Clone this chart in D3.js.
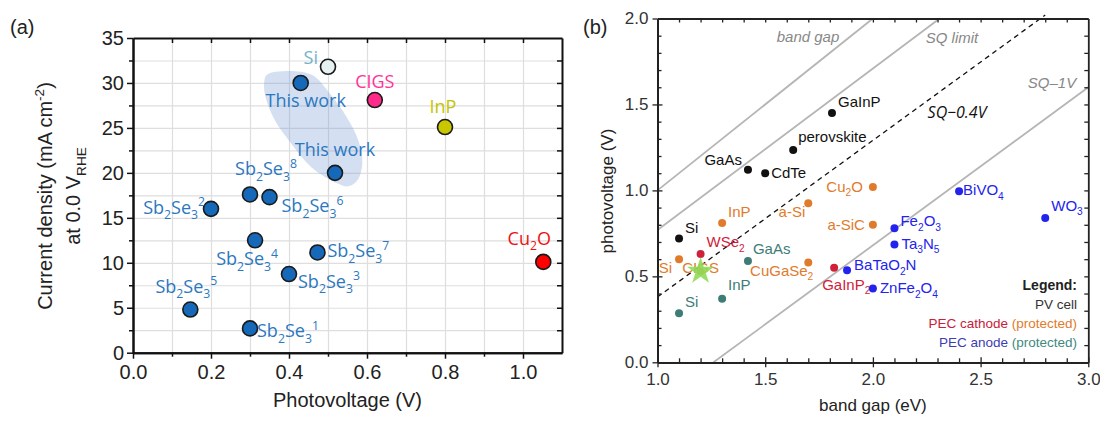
<!DOCTYPE html>
<html>
<head>
<meta charset="utf-8">
<script src="https://cdn.jsdelivr.net/npm/d3@7"></script>
<style>
  body { margin: 0; background: #fff; }
  svg text { font-family: "Liberation Sans", Arial, sans-serif; }
  .narrow { font-family: "Liberation Sans Narrow", "Liberation Sans", Arial, sans-serif; }
  .lbl { font-family: "Open Sans", "Noto Sans", sans-serif; }
</style>
</head>
<body>
<svg id="chart" width="1100" height="425"></svg>
<script>
// ---------- panel (a) data ----------
var sbNames   = ["Sb_2Se_3^1", "Sb_2Se_3^2", "Sb_2Se_3^3", "Sb_2Se_3^4", "Sb_2Se_3^5", "Sb_2Se_3^6", "Sb_2Se_3^7", "Sb_2Se_3^8"];
var sbVoltage = [0.30, 0.20, 0.40, 0.313, 0.147, 0.35, 0.473, 0.30];
var sbCurrent = [2.7, 16.0, 8.75, 12.5, 4.8, 17.3, 11.15, 17.6];

var workNames   = ["This work", "This work"];
var workVoltage = [0.43, 0.518];
var workCurrent = [30.0, 20.0];

var refNames   = ["Si", "CIGS", "InP", "Cu_2O"];
var refVoltage = [0.50, 0.62, 0.80, 1.052];
var refCurrent = [31.8, 28.1, 25.1, 10.1];

// outline of the shaded "this work" region (V, mA cm-2)
var workRegion = [[0.343, 30.9], [0.385, 31.3], [0.458, 30.9], [0.505, 28.8], [0.548, 26.2], [0.578, 23.6],
                  [0.588, 21.1], [0.576, 19.2], [0.552, 18.5], [0.520, 18.9], [0.458, 20.6], [0.405, 23.3],
                  [0.363, 25.9], [0.340, 28.4], [0.336, 29.9]];

var xTicksA = [0, 0.2, 0.4, 0.6, 0.8, 1.0];
var yTicksA = [0, 5, 10, 15, 20, 25, 30, 35];

// ---------- panel (b) data ----------
var pvNames = ["Si", "GaAs", "CdTe", "perovskite", "GaInP"];
var pvGap   = [1.10, 1.42, 1.50, 1.63, 1.81];
var pvVolt  = [0.72, 1.12, 1.10, 1.235, 1.45];

var cathProtNames = ["Si", "CIGS", "InP", "a-Si", "CuGaSe_2", "Cu_2O", "a-SiC"];
var cathProtGap   = [1.10, 1.20, 1.30, 1.70, 1.70, 2.00, 2.00];
var cathProtVolt  = [0.60, 0.53, 0.81, 0.925, 0.58, 1.02, 0.80];

var cathNames = ["WSe_2", "GaInP_2"];
var cathGap   = [1.20, 1.82];
var cathVolt  = [0.63, 0.55];

var anodeNames = ["BiVO_4", "WO_3", "Fe_2O_3", "Ta_3N_5", "BaTaO_2N", "ZnFe_2O_4"];
var anodeGap   = [2.40, 2.80, 2.10, 2.10, 1.88, 2.00];
var anodeVolt  = [0.995, 0.84, 0.78, 0.685, 0.535, 0.43];

var anodeProtNames = ["GaAs", "InP", "Si"];
var anodeProtGap   = [1.42, 1.30, 1.10];
var anodeProtVolt  = [0.59, 0.37, 0.285];

var starGap = [1.20], starVolt = [0.53];

var bandGapLine = [[1.0, 1.0], [2.0, 2.0]];
var sqLimitLine = [[1.0, 0.77], [2.31, 2.0]];
var sq04Line    = [[1.0, 0.38], [2.80, 2.02]];
var sq1Line     = [[1.26, 0.0], [3.0, 1.60]];

var xTicksB = [1.0, 1.5, 2.0, 2.5, 3.0];
var yTicksB = [0.0, 0.5, 1.0, 1.5, 2.0];

// ---------- helpers ----------
var svg = d3.select("#chart");

// "_x" subscript, "^x" superscript, braces for longer runs
function rich(sel, str, fs) {
  var re = /([_^])(\{[^}]*\}|.)|([^_^]+)/g, m, shift = 0;
  while ((m = re.exec(str))) {
    var t = sel.append("tspan");
    if (m[3]) {
      t.text(m[3]).attr("dy", -shift);
      shift = 0;
    } else {
      var s = m[2].replace(/[{}]/g, "");
      var ns = m[1] === "_" ? fs * 0.3 : -fs * 0.42;
      t.text(s).attr("font-size", fs * 0.68).attr("dy", ns - shift);
      shift = ns;
    }
  }
}

function styleAxis(g, w) {
  g.select(".domain").attr("stroke", "#111").attr("stroke-width", w);
  g.selectAll(".tick line").attr("stroke", "#111").attr("stroke-width", 1.5);
}

// ================= panel (a) =================
var xA = d3.scaleLinear().domain([0, 1.1]).range([133, 562]);
var yA = d3.scaleLinear().domain([0, 35]).range([352.7, 38]);
var hA = yA(0) - yA(35), wA = xA(1.1) - xA(0);

var gridX = svg.append("g").attr("transform", "translate(0," + yA(0) + ")")
  .call(d3.axisBottom(xA).tickValues(d3.range(1, 11).map(function(i) { return i / 10; })).tickSize(-hA).tickFormat(""));
var gridY = svg.append("g").attr("transform", "translate(" + xA(0) + ",0)")
  .call(d3.axisLeft(yA).tickValues(d3.range(1, 14).map(function(i) { return i * 2.5; })).tickSize(-wA).tickFormat(""));
[gridX, gridY].forEach(function(g) {
  g.select(".domain").remove();
  g.selectAll(".tick line").attr("stroke", "#dedede").attr("stroke-width", 1.2);
});

svg.append("path")
  .attr("d", d3.line().x(function(d) { return xA(d[0]); }).y(function(d) { return yA(d[1]); })
    .curve(d3.curveCatmullRomClosed)(workRegion))
  .attr("fill", "rgb(120,160,215)").attr("fill-opacity", 0.32);

// axes
var axL = svg.append("g").attr("transform", "translate(" + xA(0) + ",0)")
  .call(d3.axisLeft(yA).tickValues(yTicksA).tickSize(6).tickSizeOuter(0).tickPadding(3));
var axLm = svg.append("g").attr("transform", "translate(" + xA(0) + ",0)")
  .call(d3.axisLeft(yA).tickValues([2.5, 7.5, 12.5, 17.5, 22.5, 27.5, 32.5]).tickSize(4).tickSizeOuter(0).tickFormat(""));
var axB = svg.append("g").attr("transform", "translate(0," + yA(0) + ")")
  .call(d3.axisBottom(xA).tickValues(xTicksA).tickSize(6).tickSizeOuter(0).tickPadding(6).tickFormat(d3.format(".1f")));
var axBm = svg.append("g").attr("transform", "translate(0," + yA(0) + ")")
  .call(d3.axisBottom(xA).tickValues([0.1, 0.3, 0.5, 0.7, 0.9]).tickSize(4).tickSizeOuter(0).tickFormat(""));
var axT = svg.append("g").attr("transform", "translate(0," + yA(35) + ")")
  .call(d3.axisTop(xA).tickValues(d3.range(1, 11).map(function(i) { return i / 10; })).tickSize(-5).tickSizeOuter(0).tickFormat(""));
var axR = svg.append("g").attr("transform", "translate(" + xA(1.1) + ",0)")
  .call(d3.axisRight(yA).tickValues(d3.range(1, 14).map(function(i) { return i * 2.5; })).tickSize(-5).tickSizeOuter(0).tickFormat(""));
[axL, axLm, axB, axBm, axT, axR].forEach(function(g) { styleAxis(g, 2); });
[axL, axB].forEach(function(g) {
  g.selectAll(".tick text").attr("font-size", 20).attr("fill", "#222")
    .attr("font-family", "Liberation Sans, Arial, sans-serif");
});

svg.append("text").attr("x", (xA(0) + xA(1.1)) / 2).attr("y", 407).attr("text-anchor", "middle")
  .attr("font-size", 20).attr("fill", "#222").text("Photovoltage (V)");
var yt1 = svg.append("text").attr("transform", "translate(52,196) rotate(-90)").attr("text-anchor", "middle")
  .attr("font-size", 20).attr("fill", "#222");
rich(yt1, "Current density (mA cm^{-2})", 20);
var yt2 = svg.append("text").attr("transform", "translate(80,196) rotate(-90)").attr("text-anchor", "middle")
  .attr("font-size", 20).attr("fill", "#222");
rich(yt2, "at 0.0 V_{RHE}", 20);

svg.append("text").attr("x", 10).attr("y", 34).attr("font-size", 20).attr("fill", "#222").text("(a)");

// points (a)
var blueFill = "#1668b8", blueText = "#2b78c0";
var sbOff = [[7, 9, "start"], [-6, 5, "end"], [9, 14, "start"], [-8, 25, "middle"], [-4, -17, "middle"],
             [12, 15, "start"], [10, 5, "start"], [16, -19, "middle"]];
var workOff = [[5, 24, "middle"], [0, -17, "middle"]];
var refOff = [[-10, -3, "end"], [0, -12, "middle"], [-2, -14, "middle"], [-14, -17, "middle"]];
var refFill = ["#e6f2f2", "#ff2a8a", "#c9c800", "#ff0000"];
var refText = ["#72b3c9", "#ff3399", "#c4c400", "#ee1111"];

function pointsA(names, vx, vy, fills, texts, offs) {
  names.forEach(function(n, i) {
    svg.append("circle").attr("cx", xA(vx[i])).attr("cy", yA(vy[i])).attr("r", 7.5)
      .attr("fill", fills[i]).attr("stroke", "#1a1a1a").attr("stroke-width", 1.6);
  });
  names.forEach(function(n, i) {
    var o = offs[i];
    var t = svg.append("text").attr("class", "lbl").attr("x", xA(vx[i]) + o[0]).attr("y", yA(vy[i]) + o[1])
      .attr("text-anchor", o[2]).attr("font-size", 18).attr("fill", texts[i]);
    rich(t, n, 18);
  });
}
pointsA(sbNames, sbVoltage, sbCurrent, sbNames.map(function() { return blueFill; }), sbNames.map(function() { return blueText; }), sbOff);
pointsA(workNames, workVoltage, workCurrent, [blueFill, blueFill], [blueText, blueText], workOff);
pointsA(refNames, refVoltage, refCurrent, refFill, refText, refOff);

// ================= panel (b) =================
var xB = d3.scaleLinear().domain([1, 3]).range([657.5, 1088.3]);
var yB = d3.scaleLinear().domain([0, 2]).range([362.3, 18.5]);
var tenths = function(a, b) { return d3.range(a, b + 1).map(function(i) { return i / 10; }); };
var minorX = tenths(11, 29).filter(function(v) { return Math.round(v * 10) % 5 !== 0; });
var minorY = tenths(1, 19).filter(function(v) { return Math.round(v * 10) % 5 !== 0; });

var lineB = d3.line().x(function(d) { return xB(d[0]); }).y(function(d) { return yB(d[1]); });
[bandGapLine, sqLimitLine, sq1Line].forEach(function(l) {
  svg.append("path").attr("d", lineB(l)).attr("stroke", "#b5b5b5").attr("stroke-width", 1.8).attr("fill", "none");
});
svg.append("path").attr("d", lineB(sq04Line)).attr("stroke", "#111").attr("stroke-width", 1.3)
  .attr("stroke-dasharray", "5,4").attr("fill", "none");

var bL = svg.append("g").attr("transform", "translate(" + xB(1) + ",0)")
  .call(d3.axisLeft(yB).tickValues(yTicksB).tickSize(5).tickSizeOuter(0).tickPadding(4).tickFormat(d3.format(".1f")));
var bLi = svg.append("g").attr("transform", "translate(" + xB(1) + ",0)")
  .call(d3.axisLeft(yB).tickValues(yTicksB).tickSize(-5).tickSizeOuter(0).tickFormat(""));
var bLm = svg.append("g").attr("transform", "translate(" + xB(1) + ",0)")
  .call(d3.axisLeft(yB).tickValues(minorY).tickSize(-4).tickSizeOuter(0).tickFormat(""));
var bB = svg.append("g").attr("transform", "translate(0," + yB(0) + ")")
  .call(d3.axisBottom(xB).tickValues(xTicksB).tickSize(5).tickSizeOuter(0).tickPadding(6).tickFormat(d3.format(".1f")));
var bBi = svg.append("g").attr("transform", "translate(0," + yB(0) + ")")
  .call(d3.axisBottom(xB).tickValues(xTicksB).tickSize(-5).tickSizeOuter(0).tickFormat(""));
var bBm = svg.append("g").attr("transform", "translate(0," + yB(0) + ")")
  .call(d3.axisBottom(xB).tickValues(minorX).tickSize(-4).tickSizeOuter(0).tickFormat(""));
var bT = svg.append("g").attr("transform", "translate(0," + yB(2) + ")")
  .call(d3.axisTop(xB).tickValues(tenths(11, 29)).tickSize(-4).tickSizeOuter(0).tickFormat(""));
var bR = svg.append("g").attr("transform", "translate(" + xB(3) + ",0)")
  .call(d3.axisRight(yB).tickValues(tenths(1, 19)).tickSize(-4).tickSizeOuter(0).tickFormat(""));
[bL, bLi, bLm, bB, bBi, bBm, bT, bR].forEach(function(g) {
  g.select(".domain").attr("stroke", "#222").attr("stroke-width", 1.8);
  g.selectAll(".tick line").attr("stroke", "#222").attr("stroke-width", 1.3);
});
[bL, bB].forEach(function(g) {
  g.selectAll(".tick text").attr("font-size", 17).attr("fill", "#333")
    .attr("font-family", "Liberation Sans Narrow, Liberation Sans, Arial, sans-serif");
});

svg.append("text").attr("class", "narrow").attr("x", xB(2)).attr("y", 411).attr("text-anchor", "middle")
  .attr("font-size", 17).attr("fill", "#222").text("band gap (eV)");
svg.append("text").attr("class", "narrow").attr("transform", "translate(613,191) rotate(-90)").attr("text-anchor", "middle")
  .attr("font-size", 17).attr("fill", "#222").text("photovoltage (V)");
svg.append("text").attr("x", 583).attr("y", 34).attr("font-size", 20).attr("fill", "#222").text("(b)");

// line captions
svg.append("text").attr("class", "narrow").attr("x", 808).attr("y", 42).attr("text-anchor", "middle")
  .attr("font-size", 15).attr("font-style", "italic").attr("fill", "#888").text("band gap");
svg.append("text").attr("class", "narrow").attr("x", 952).attr("y", 43).attr("text-anchor", "middle")
  .attr("font-size", 15).attr("font-style", "italic").attr("fill", "#888").text("SQ limit");
svg.append("text").attr("class", "lbl").attr("x", 957).attr("y", 118).attr("text-anchor", "middle")
  .attr("font-size", 16).attr("font-style", "italic").attr("fill", "#111").text("SQ\u22120.4V");
svg.append("text").attr("class", "narrow").attr("x", 1052).attr("y", 88).attr("text-anchor", "middle")
  .attr("font-size", 15).attr("font-style", "italic").attr("fill", "#888").text("SQ\u20131V");

function pointsB(names, gx, vy, color, offs) {
  names.forEach(function(n, i) {
    svg.append("circle").attr("cx", xB(gx[i])).attr("cy", yB(vy[i])).attr("r", 4).attr("fill", color);
  });
  names.forEach(function(n, i) {
    var o = offs[i];
    var t = svg.append("text").attr("class", "narrow").attr("x", xB(gx[i]) + o[0]).attr("y", yB(vy[i]) + o[1])
      .attr("text-anchor", o[2]).attr("font-size", 15).attr("fill", color);
    rich(t, n, 15);
  });
}
pointsB(pvNames, pvGap, pvVolt, "#111",
  [[6, -6, "start"], [-6, -5, "end"], [6, 5, "start"], [5, -8, "start"], [6, -6, "start"]]);
pointsB(cathProtNames, cathProtGap, cathProtVolt, "#e07b2c",
  [[-7, 14, "end"], [0, 2, "middle"], [6, -6, "start"], [-3, 14, "end"], [5, 13, "end"], [-10, 5, "end"], [-8, 5, "end"]]);
pointsB(cathNames, cathGap, cathVolt, "#d0213a", [[6, -7, "start"], [-12, 22, "start"]]);
pointsB(anodeNames, anodeGap, anodeVolt, "#2323ee",
  [[4, 4, "start"], [6, -7, "start"], [6, -2, "start"], [7, 4, "start"], [7, 0, "start"], [7, 5, "start"]]);
pointsB(anodeProtNames, anodeProtGap, anodeProtVolt, "#3e7d76", [[5, -7, "start"], [6, -9, "start"], [6, -6, "start"]]);

svg.selectAll(".star").data(starGap).enter().append("path").attr("class", "star")
  .attr("transform", function(d, i) { return "translate(" + xB(d) + "," + yB(starVolt[i]) + ")"; })
  .attr("d", d3.symbol().type(d3.symbolStar).size(230))
  .attr("fill", "#8fdc5a").attr("fill-opacity", 0.9);

// legend
var legX = 1077;
svg.append("text").attr("class", "narrow").attr("x", legX).attr("y", 290).attr("text-anchor", "end")
  .attr("font-size", 14).attr("font-weight", "bold").attr("fill", "#222").text("Legend:");
svg.append("text").attr("class", "narrow").attr("x", legX).attr("y", 309).attr("text-anchor", "end")
  .attr("font-size", 13.5).attr("fill", "#333").text("PV cell");
var lc = svg.append("text").attr("class", "narrow").attr("x", legX).attr("y", 328).attr("text-anchor", "end").attr("font-size", 13.5);
lc.append("tspan").attr("fill", "#c8203a").text("PEC cathode ");
lc.append("tspan").attr("fill", "#e07b2c").text("(protected)");
var la = svg.append("text").attr("class", "narrow").attr("x", legX).attr("y", 347).attr("text-anchor", "end").attr("font-size", 13.5);
la.append("tspan").attr("fill", "#3c3cb4").text("PEC anode ");
la.append("tspan").attr("fill", "#3e8a80").text("(protected)");
</script>
</body>
</html>
